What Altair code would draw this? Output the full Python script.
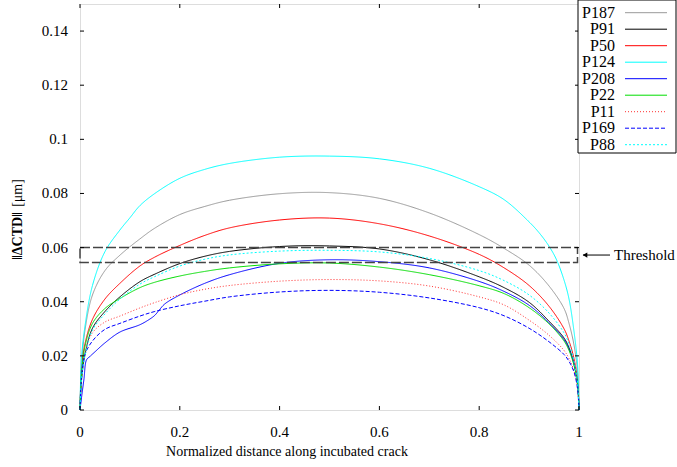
import altair as alt
import pandas as pd

# ---------------- data ----------------
X = [0, 0.003, 0.01, 0.025, 0.05, 0.08, 0.12, 0.15, 0.2, 0.25, 0.3, 0.4, 0.5,
     0.6, 0.7, 0.8, 0.85, 0.9, 0.94, 0.97, 0.98, 0.99, 0.997, 1]

P187 = [0, 0.016, 0.0295, 0.0425, 0.0515, 0.0572, 0.0632, 0.0672, 0.0722, 0.0752, 0.0775, 0.0799, 0.0803,
        0.0782, 0.0728, 0.0648, 0.0597, 0.0535, 0.0458, 0.0375, 0.032, 0.024, 0.014, 0]
P91 = [0, 0.011, 0.0205, 0.0302, 0.0364, 0.0418, 0.0474, 0.0502, 0.0541, 0.0568, 0.0586, 0.0604, 0.0606,
       0.0595, 0.0555, 0.0492, 0.0452, 0.0398, 0.0328, 0.0266, 0.023, 0.017, 0.010, 0]
P50 = [0, 0.015, 0.0245, 0.0335, 0.041, 0.0468, 0.0532, 0.0565, 0.0608, 0.0645, 0.0673, 0.0702, 0.0709,
       0.0688, 0.0643, 0.0575, 0.0525, 0.046, 0.0383, 0.030, 0.0255, 0.019, 0.011, 0]
P22 = [0, 0.013, 0.0235, 0.032, 0.0375, 0.0412, 0.0452, 0.0472, 0.0495, 0.0512, 0.0525, 0.0540, 0.0543,
       0.0528, 0.0500, 0.0459, 0.0430, 0.0378, 0.0318, 0.0255, 0.022, 0.0165, 0.0095, 0]
P11 = [0, 0.011, 0.021, 0.0285, 0.0325, 0.0347, 0.0377, 0.0397, 0.0426, 0.0446, 0.046, 0.0476, 0.0482,
       0.0477, 0.0458, 0.0418, 0.0388, 0.0332, 0.0276, 0.022, 0.019, 0.0145, 0.008, 0]
P169 = [0, 0.012, 0.0205, 0.0255, 0.0298, 0.032, 0.0347, 0.0364, 0.0385, 0.0402, 0.0418, 0.0436, 0.0442,
        0.0435, 0.0414, 0.0378, 0.0348, 0.0302, 0.0252, 0.0205, 0.018, 0.014, 0.008, 0]
P88 = [0, 0.011, 0.020, 0.0295, 0.0355, 0.041, 0.0465, 0.0493, 0.0532, 0.0557, 0.0573, 0.0587, 0.059,
       0.0584, 0.056, 0.0515, 0.0478, 0.0425, 0.0358, 0.0285, 0.0245, 0.018, 0.010, 0]

X_P124 = [0, 0.003, 0.01, 0.025, 0.05, 0.08, 0.1, 0.12, 0.15, 0.2, 0.25, 0.3, 0.4, 0.5, 0.6, 0.7, 0.8,
          0.85, 0.9, 0.92, 0.94, 0.955, 0.97, 0.98, 0.99, 0.997, 1]
P124 = [0, 0.019, 0.031, 0.046, 0.0585, 0.0665, 0.071, 0.0755, 0.0800, 0.0856, 0.0889, 0.0911, 0.0934,
        0.0938, 0.0928, 0.0893, 0.0825, 0.0777, 0.0695, 0.0655, 0.0605, 0.0555, 0.048, 0.041, 0.029,
        0.017, 0]

X_P208 = [0, 0.003, 0.008, 0.013, 0.02, 0.03, 0.05, 0.08, 0.12, 0.14, 0.15, 0.16, 0.17, 0.2, 0.25, 0.3,
          0.4, 0.5, 0.6, 0.7, 0.8, 0.85, 0.9, 0.94, 0.97, 0.98, 0.99, 0.997, 1]
P208 = [0, 0.0045, 0.0115, 0.0185, 0.0198, 0.0215, 0.0248, 0.0288, 0.0315, 0.0336, 0.0350, 0.0372, 0.0392,
        0.0425, 0.0468, 0.0500, 0.0542, 0.0555, 0.0548, 0.0525, 0.0475, 0.0438, 0.0387, 0.0322, 0.026,
        0.0225, 0.017, 0.010, 0]

SERIES = ["P187", "P91", "P50", "P124", "P208", "P22", "P11", "P169", "P88"]
COLORS = ["#999999", "#000000", "#ff0000", "#00ffff", "#0000ff", "#00dd00", "#ff3030", "#0000ff", "#00ffff"]
DASHES = [[1, 0], [1, 0], [1, 0], [1, 0], [1, 0], [1, 0], [1, 2], [4, 2], [2, 2]]

X_TICKS = [0, 0.2, 0.4, 0.6, 0.8, 1]
Y_TICKS = [0, 0.02, 0.04, 0.06, 0.08, 0.1, 0.12, 0.14]
THRESHOLD = [0.0545, 0.0600]
X_TITLE = "Normalized distance along incubated crack"
Y_TITLE_A = "‖ΔCTD‖"
Y_TITLE_B = "[μm]"

# ---------------- build table ----------------
series_data = {
    "P187": (X, P187), "P91": (X, P91), "P50": (X, P50), "P124": (X_P124, P124),
    "P208": (X_P208, P208), "P22": (X, P22), "P11": (X, P11), "P169": (X, P169), "P88": (X, P88),
}
rows = []
for i, name in enumerate(SERIES):
    xs_, ys_ = series_data[name]
    for xv, yv in zip(xs_, ys_):
        rows.append({"series": name, "x": xv, "y": yv})
df = pd.DataFrame(rows)

W, H = 499, 406
FONT = "Liberation Serif"
xscale = alt.Scale(domain=[0, 1], nice=False, zero=False)
yscale = alt.Scale(domain=[0, 0.15], nice=False)
cscale = alt.Scale(domain=SERIES, range=COLORS)
dscale = alt.Scale(domain=SERIES, range=DASHES)


def ex(field="x"):
    return alt.X(f"{field}:Q", scale=xscale, axis=None)


def ey(field="y"):
    return alt.Y(f"{field}:Q", scale=yscale, axis=None)


lines = alt.Chart(df).mark_line(strokeWidth=1, interpolate="catmull-rom").encode(
    x=ex(), y=ey(),
    color=alt.Color("series:N", scale=cscale, legend=None),
    strokeDash=alt.StrokeDash("series:N", scale=dscale, legend=None),
    detail="series:N",
)

thr_df = pd.DataFrame({"x": [0], "x2": [0.997], "y": [THRESHOLD[0]], "y2": [THRESHOLD[1]]})
thr = alt.Chart(thr_df).mark_rect(fillOpacity=0, stroke="#444444", strokeWidth=1.5,
                                   strokeDash=[10, 3]).encode(
    x=ex(), x2="x2:Q", y=ey(), y2="y2:Q")

xt_df = pd.DataFrame({"x": X_TICKS, "label": [f"{v:g}" for v in X_TICKS]})
yt_df = pd.DataFrame({"y": Y_TICKS, "label": [f"{v:g}" for v in Y_TICKS]})
tick_bottom = alt.Chart(xt_df).mark_rule(color="black").encode(
    x=ex(), y=alt.value(H), y2=alt.value(H - 4))
tick_top = alt.Chart(xt_df).mark_rule(color="black").encode(
    x=ex(), y=alt.value(0), y2=alt.value(4))
tick_left = alt.Chart(yt_df).mark_rule(color="black").encode(
    y=ey(), x=alt.value(0), x2=alt.value(4))
tick_right = alt.Chart(yt_df).mark_rule(color="black").encode(
    y=ey(), x=alt.value(W), x2=alt.value(W - 4))

xlabels = alt.Chart(xt_df).mark_text(align="center", baseline="middle", font=FONT, fontSize=15,
                                     color="black").encode(
    x=ex(), y=alt.value(H + 22), text="label:N")
ylabels = alt.Chart(yt_df).mark_text(align="right", baseline="middle", font=FONT, fontSize=15,
                                     color="black").encode(
    y=ey(), x=alt.value(-12), text="label:N")

one = pd.DataFrame({"a": [0]})
xtitle = alt.Chart(one).mark_text(align="center", baseline="middle", font=FONT, fontSize=14,
                                  color="black", text=X_TITLE).encode(
    x=alt.value(207), y=alt.value(448))
ytitle_a = alt.Chart(one).mark_text(align="center", baseline="middle", font=FONT, fontSize=14,
                                    fontWeight="bold", angle=270, color="black", text=Y_TITLE_A).encode(
    x=alt.value(-62), y=alt.value(232))
ytitle_b = alt.Chart(one).mark_text(align="center", baseline="middle", font=FONT, fontSize=14,
                                    angle=270, color="black", text=Y_TITLE_B).encode(
    x=alt.value(-62), y=alt.value(189))

legend_box = alt.Chart(one).mark_rect(fill="white", stroke="black", strokeWidth=1).encode(
    x=alt.value(498), x2=alt.value(596), y=alt.value(-4), y2=alt.value(149))

legend_layers = []
for i, name in enumerate(SERIES):
    ry = 8.7 + 16.5 * i
    ldf = pd.DataFrame({"label": [name]})
    legend_layers.append(alt.Chart(ldf).mark_rule(color=COLORS[i], strokeDash=DASHES[i], strokeWidth=1).encode(
        x=alt.value(545), x2=alt.value(587), y=alt.value(ry)))
    legend_layers.append(alt.Chart(ldf).mark_text(align="right", baseline="middle", font=FONT, fontSize=16,
                                                  color="black").encode(
        x=alt.value(535), y=alt.value(ry), text="label:N"))

arr_df = pd.DataFrame({"y": [sum(THRESHOLD) / 2], "label": ["Threshold"]})
arrow_line = alt.Chart(arr_df).mark_rule(color="black", strokeWidth=1).encode(
    x=alt.value(503), x2=alt.value(530), y=ey())
arrow_head = alt.Chart(arr_df).mark_point(shape="triangle-left", filled=True, size=28, color="black",
                                          opacity=1).encode(
    x=alt.value(505), y=ey())
arrow_text = alt.Chart(arr_df).mark_text(align="left", baseline="middle", font=FONT, fontSize=15,
                                         color="black").encode(
    x=alt.value(534), y=ey(), text="label:N")

chart = alt.layer(
    lines, thr, tick_bottom, tick_top, tick_left, tick_right, xlabels, ylabels, xtitle,
    ytitle_a, ytitle_b, legend_box, *legend_layers, arrow_line, arrow_head, arrow_text
).properties(
    width=W, height=H, autosize="none",
    padding={"left": 80, "top": 4, "right": 98, "bottom": 57},
).configure_view(stroke="black", strokeWidth=1.2).configure(background="white")

chart.save("out.html", embed_options={"renderer": "svg", "actions": False})
